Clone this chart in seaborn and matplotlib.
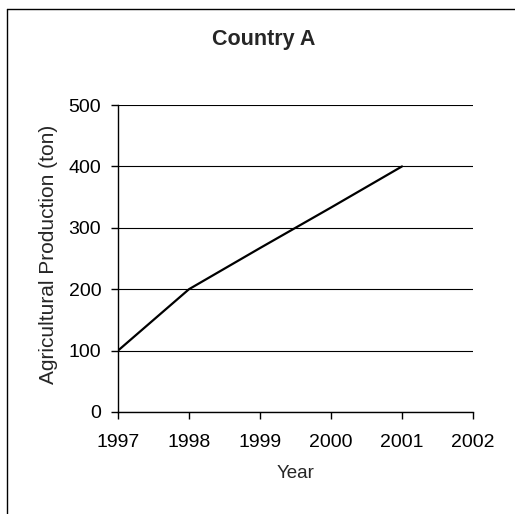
import matplotlib
matplotlib.use("Agg")
import matplotlib.pyplot as plt
import seaborn as sns
import pandas as pd
from matplotlib.lines import Line2D
from matplotlib.transforms import Bbox, TransformedBbox

# data
years = [1997, 1998, 1999, 2000, 2001]
production = [100, 200, 267, 333, 400]
y_ticks = [0, 100, 200, 300, 400, 500]
x_ticks = [1997, 1998, 1999, 2000, 2001, 2002]

df = pd.DataFrame({'Year': years, 'Production': production})

sns.set_style("white")
plt.rcParams['font.family'] = ['Liberation Sans', 'DejaVu Sans']

W, H = 515, 514
fig = plt.figure(figsize=(W / 100, H / 100), dpi=100)
ax = fig.add_axes([118 / W, 1 - 412 / H, (473 - 118) / W, (412 - 105) / H])

sns.lineplot(data=df, x='Year', y='Production', color='black', linewidth=1.6, ax=ax)

ax.set_xlim(1997, 2002)
ax.set_ylim(0, 500)
ax.set_xticks(x_ticks)
ax.set_yticks(y_ticks)
ax.set_xticklabels([str(x) for x in x_ticks])
ax.yaxis.grid(True, color='black', linewidth=0.8)
ax.set_axisbelow(True)

for s in ['top', 'right']:
    ax.spines[s].set_visible(False)
for s in ['left', 'bottom']:
    ax.spines[s].set_color('black')
    ax.spines[s].set_linewidth(1.0)

ax.tick_params(axis='both', direction='out', length=5, width=1.0, color='black',
               labelsize=14, labelcolor='black', left=True, bottom=True)
ax.tick_params(axis='x', pad=11)
ax.tick_params(axis='y', pad=7)

ax.set_xlabel("")
ax.set_ylabel("")

# axis titles and chart title placed in pixel positions like the reference
fig.text(296 / W, 1 - 474 / H, "Year", fontsize=13.5, ha='center', va='center')
fig.text(264 / W, 1 - 39 / H, "Country A", fontsize=15.5, fontweight='bold',
         ha='center', va='center')
ylab = fig.text(49 / W, 1 - 254 / H, "Agricultural Production (ton)", fontsize=15,
                rotation=90, ha='center', va='center')
# the reference cuts the label off at the top
ylab.set_clip_on(True)
ylab.set_clip_box(TransformedBbox(Bbox([[0, 0], [1, 1 - 127 / H]]), fig.transFigure))

# outer chart border (only top and left edges are visible in the reference)
fig.lines.append(Line2D([7 / W, 1], [1 - 9 / H, 1 - 9 / H], transform=fig.transFigure,
                        color='black', linewidth=1.0))
fig.lines.append(Line2D([7 / W, 7 / W], [0, 1 - 9 / H], transform=fig.transFigure,
                        color='black', linewidth=1.0))

fig.savefig("out.png", dpi=100)
